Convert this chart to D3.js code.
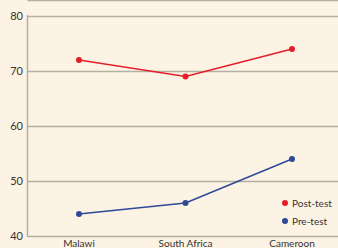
<!DOCTYPE html>
<html><head><meta charset="utf-8">
<script src="https://cdn.jsdelivr.net/npm/d3@7"></script>
<style>
html,body{margin:0;padding:0;background:#fdf3e4;}
svg{display:block;}
</style></head>
<body>
<svg id="c" width="338" height="248"></svg>
<script>
const categories = ["Malawi", "South Africa", "Cameroon"];
const postTest = [72, 69, 74];
const preTest = [44, 46, 54];
const yTicks = [40, 50, 60, 70, 80];
const seriesNames = ["Post-test", "Pre-test"];
const colors = ["#e41e2b", "#2d4a98"];

(function () {
const svg = d3.select("#c");
const W = 338, H = 248;
const mLeft = 27.5, mTop = 16, mBottom = 236;

svg.append("rect").attr("width", W).attr("height", H).attr("fill", "#fdf3e4");

const x = d3.scalePoint().domain(categories).range([79, 292]);
const y = d3.scaleLinear().domain([40, 80]).range([mBottom, mTop]);

// top border
svg.append("line").attr("x1", mLeft).attr("x2", W).attr("y1", 0.5).attr("y2", 0.5)
  .attr("stroke", "#b3b0a3").attr("stroke-width", 1.5);

// grid
svg.append("g").selectAll("line").data(yTicks).join("line")
  .attr("x1", mLeft).attr("x2", W)
  .attr("y1", d => Math.round(y(d)) + 0.5).attr("y2", d => Math.round(y(d)) + 0.5)
  .attr("stroke", "#b3b0a3").attr("stroke-width", 1.5);
// y axis line
svg.append("line").attr("x1", mLeft).attr("x2", mLeft).attr("y1", mTop - 1).attr("y2", mBottom + 1)
  .attr("stroke", "#b3b0a3").attr("stroke-width", 1.5);

// y labels
svg.append("g").selectAll("text").data(yTicks).join("text")
  .attr("x", 23).attr("y", d => y(d) + 4)
  .attr("text-anchor", "end")
  .attr("font-family", "Lato, 'Open Sans', sans-serif").attr("font-size", 11)
  .attr("fill", "#333").text(d => d);

// x labels
svg.append("g").selectAll("text").data(categories).join("text")
  .attr("x", d => x(d)).attr("y", 247)
  .attr("text-anchor", "middle")
  .attr("font-family", "Lato, 'Open Sans', sans-serif").attr("font-size", 10)
  .attr("fill", "#333").text(d => d);

const line = d3.line().x((d, i) => x(categories[i])).y(d => y(d));
[postTest, preTest].forEach((s, k) => {
  svg.append("path").datum(s).attr("d", line).attr("fill", "none")
    .attr("stroke", colors[k]).attr("stroke-width", 1.6);
  svg.append("g").selectAll("circle").data(s).join("circle")
    .attr("cx", (d, i) => x(categories[i])).attr("cy", d => y(d)).attr("r", 3)
    .attr("fill", colors[k]);
});

// legend
const leg = svg.append("g");
seriesNames.forEach((n, k) => {
  const yy = 203 + k * 18;
  leg.append("circle").attr("cx", 285).attr("cy", yy).attr("r", 3).attr("fill", colors[k]);
  leg.append("text").attr("x", 292).attr("y", yy + 3.5)
    .attr("font-family", "Lato, 'Open Sans', sans-serif").attr("font-size", 10)
    .attr("fill", "#333").text(n);
});
})();
</script>
</body></html>
